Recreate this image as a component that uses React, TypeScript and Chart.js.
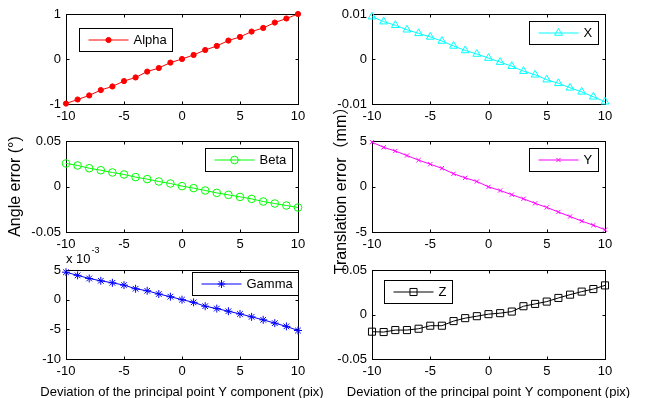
import React, { useEffect, useRef } from 'react';
import { Chart, registerables } from 'chart.js';
import * as helpers from 'chart.js/helpers';

Chart.register(...registerables);

const FONT = "'Liberation Sans', Arial, 'Noto Sans CJK SC', sans-serif";

// ---- data ----
const X_VALUES = [-10, -9, -8, -7, -6, -5, -4, -3, -2, -1, 0, 1, 2, 3, 4, 5, 6, 7, 8, 9, 10];
const ALPHA = [-0.99, -0.9, -0.81, -0.69, -0.61, -0.49, -0.41, -0.28, -0.2, -0.08, 0.0, 0.09, 0.2, 0.29, 0.41, 0.49, 0.61, 0.69, 0.81, 0.9, 1.0];
const BETA = [0.0253, 0.0231, 0.0201, 0.0179, 0.0154, 0.0132, 0.0103, 0.0081, 0.0055, 0.0033, 0.0004, -0.0018, -0.0044, -0.007, -0.0092, -0.0114, -0.0136, -0.0165, -0.0187, -0.0209, -0.0231];
const GAMMA = [4.63, 4.1, 3.57, 3.18, 2.84, 2.45, 1.84, 1.5, 0.95, 0.5, 0, -0.45, -1.1, -1.5, -1.95, -2.4, -2.9, -3.4, -3.96, -4.5, -5.2];
const TRANS_X = [0.0094, 0.0083, 0.0075, 0.0065, 0.0057, 0.0049, 0.004, 0.0029, 0.0019, 0.0011, 0.0002, -0.0007, -0.0016, -0.0027, -0.0035, -0.0046, -0.0054, -0.0064, -0.0073, -0.0084, -0.0095];
const TRANS_Y = [4.87, 4.3, 3.9, 3.4, 2.9, 2.45, 2.0, 1.4, 0.95, 0.55, -0.04, -0.44, -0.9, -1.35, -1.85, -2.3, -2.8, -3.3, -3.8, -4.25, -4.75];
const TRANS_Z = [-0.0193, -0.0197, -0.0175, -0.0175, -0.016, -0.0126, -0.0126, -0.0074, -0.0041, -0.0019, 0.0004, 0.0015, 0.0033, 0.0093, 0.0119, 0.0145, 0.0186, 0.0223, 0.0257, 0.0286, 0.0327];

// axis ranges [min, max, step]
const X_RANGE = [-10, 10, 5];
const ALPHA_RANGE = [-1, 1, 1];
const BETA_RANGE = [-0.05, 0.05, 0.05];
const GAMMA_RANGE = [-10, 5, 5];
const TX_RANGE = [-0.01, 0.01, 0.01];
const TY_RANGE = [-5, 5, 5];
const TZ_RANGE = [-0.05, 0.05, 0.05];

const SERIES_NAMES = ['Alpha', 'Beta', 'Gamma', 'X', 'Y', 'Z'];
const X_TITLE = 'Deviation of the principal point Y component (pix)';
const ANGLE_TITLE = 'Angle error (°)';
const TRANS_TITLE = 'Translation error（mm）';
const GAMMA_EXPONENT = ['x 10', '-3'];

// ---- layout ----
const COL_L = { cx: 0, cw: 345, L: 66, R: 298 };
const COL_R = { cx: 316, cw: 337, L: 372, R: 605 };
const ROW1 = { cy: 0, ch: 128, T: 14, B: 104 };
const ROW2 = { cy: 95, ch: 185, T: 141, B: 232 };
const ROW3 = { cy: 240, ch: 158, T: 270, B: 359 };
const X_AXIS_H = 22;

const fmt = (v: number) => String(Number(Number(v).toFixed(6)));

const PANELS = [
  { id: 'alpha', col: COL_L, row: ROW1, values: ALPHA, range: ALPHA_RANGE, name: SERIES_NAMES[0], color: '#ff0000', style: 'circle', radius: 2.6, fill: '#ff0000', legend: { corner: 'nw', dx: 13, dy: 14 } },
  { id: 'beta', col: COL_L, row: ROW2, values: BETA, range: BETA_RANGE, name: SERIES_NAMES[1], color: '#00ff00', style: 'circle', radius: 3.8, fill: 'transparent', legend: { corner: 'ne', dx: 6, dy: 7 }, yTitle: ANGLE_TITLE, yTitlePad: 6 },
  { id: 'gamma', col: COL_L, row: ROW3, values: GAMMA, range: GAMMA_RANGE, name: SERIES_NAMES[2], color: '#0000ff', style: 'star', radius: 4, fill: 'transparent', legend: { corner: 'ne', dx: 0, dy: 2 }, exponent: GAMMA_EXPONENT, xTitle: X_TITLE },
  { id: 'tx', col: COL_R, row: ROW1, values: TRANS_X, range: TX_RANGE, name: SERIES_NAMES[3], color: '#00ffff', style: 'triangle', radius: 4.5, fill: 'transparent', legend: { corner: 'ne', dx: 7, dy: 7 } },
  { id: 'ty', col: COL_R, row: ROW2, values: TRANS_Y, range: TY_RANGE, name: SERIES_NAMES[4], color: '#ff00ff', style: 'crossRot', radius: 3, fill: 'transparent', legend: { corner: 'ne', dx: 7, dy: 7 }, yTitle: TRANS_TITLE, yTitlePad: 16 },
  { id: 'tz', col: COL_R, row: ROW3, values: TRANS_Z, range: TZ_RANGE, name: SERIES_NAMES[5], color: '#000000', style: 'rect', radius: 5, fill: 'transparent', legend: { corner: 'nw', dx: 12, dy: 10 }, xTitle: X_TITLE },
];

const matlabPlugin = {
  id: 'matlab',
  beforeDatasetsDraw(chart: any) {
    const { ctx, chartArea: a } = chart;
    const xs = chart.scales.x;
    const ys = chart.scales.y;
    const l = Math.round(a.left) + 0.5;
    const r = Math.round(a.right) + 0.5;
    const t = Math.round(a.top) + 0.5;
    const b = Math.round(a.bottom) + 0.5;
    ctx.save();
    ctx.strokeStyle = '#000';
    ctx.lineWidth = 1;
    ctx.strokeRect(l, t, r - l, b - t);
    const tl = 3;
    ctx.beginPath();
    xs.ticks.forEach((tk: any) => {
      const px = Math.round(xs.getPixelForValue(tk.value)) + 0.5;
      ctx.moveTo(px, b); ctx.lineTo(px, b - tl);
      ctx.moveTo(px, t); ctx.lineTo(px, t + tl);
    });
    ys.ticks.forEach((tk: any) => {
      const py = Math.round(ys.getPixelForValue(tk.value)) + 0.5;
      ctx.moveTo(l, py); ctx.lineTo(l + tl, py);
      ctx.moveTo(r, py); ctx.lineTo(r - tl, py);
    });
    ctx.stroke();
    ctx.restore();
  },
  afterDatasetsDraw(chart: any, _args: any, opts: any) {
    const { ctx, chartArea: a } = chart;
    const ds = chart.data.datasets[0];
    ctx.save();
    // legend
    if (opts.legend) {
      const { corner, dx, dy } = opts.legend;
      ctx.font = `13px ${FONT}`;
      const tw = ctx.measureText(ds.label).width;
      const w = Math.round(9 + 40 + 5 + tw + 6);
      const h = 23;
      const x0 = Math.round(corner === 'nw' ? a.left + dx : a.right - dx - w) + 0.5;
      const y0 = Math.round(a.top + dy) + 0.5;
      ctx.fillStyle = '#fff';
      ctx.fillRect(x0, y0, w, h);
      ctx.strokeStyle = '#000';
      ctx.lineWidth = 1;
      ctx.strokeRect(x0, y0, w, h);
      const cy = Math.round(y0 + h / 2);
      ctx.strokeStyle = ds.borderColor;
      ctx.beginPath();
      ctx.moveTo(x0 + 9, cy);
      ctx.lineTo(x0 + 49, cy);
      ctx.stroke();
      ctx.fillStyle = ds.pointBackgroundColor;
      ctx.strokeStyle = ds.pointBorderColor;
      ctx.lineWidth = ds.pointBorderWidth;
      helpers.drawPoint(ctx, { pointStyle: ds.pointStyle, radius: ds.pointRadius, borderWidth: ds.pointBorderWidth, rotation: 0 }, x0 + 29, cy);
      ctx.fillStyle = '#000';
      ctx.textAlign = 'left';
      ctx.textBaseline = 'middle';
      ctx.fillText(ds.label, x0 + 54, cy + 0.5);
    }
    // exponent label
    if (opts.exponent) {
      ctx.fillStyle = '#000';
      ctx.textAlign = 'left';
      ctx.textBaseline = 'alphabetic';
      ctx.font = `13px ${FONT}`;
      const base = a.top - 7;
      ctx.fillText(opts.exponent[0], a.left, base);
      const w0 = ctx.measureText(opts.exponent[0]).width;
      ctx.font = `9px ${FONT}`;
      ctx.fillText(opts.exponent[1], a.left + w0 + 1, base - 10);
    }
    // x title
    if (opts.xTitle) {
      ctx.fillStyle = '#000';
      ctx.font = `13px ${FONT}`;
      ctx.textAlign = 'center';
      ctx.textBaseline = 'middle';
      ctx.fillText(opts.xTitle, (a.left + a.right) / 2, a.bottom + 33.5);
    }
    ctx.restore();
  },
};

function Panel({ cfg }: { cfg: any }) {
  const ref = useRef<HTMLCanvasElement | null>(null);
  useEffect(() => {
    const { col, row } = cfg;
    const padTop = row.T - row.cy;
    const padRight = col.cx + col.cw - col.R;
    const padBottom = row.cy + row.ch - row.B - X_AXIS_H;
    const yWidth = col.L - col.cx;
    const tickFont = { size: 13, family: FONT };
    const chart = new Chart(ref.current as HTMLCanvasElement, {
      type: 'line',
      data: {
        datasets: [
          {
            label: cfg.name,
            data: X_VALUES.map((x, i) => ({ x, y: cfg.values[i] })),
            borderColor: cfg.color,
            backgroundColor: cfg.fill,
            borderWidth: 1,
            pointStyle: cfg.style,
            pointRadius: cfg.radius,
            pointBorderWidth: 1,
            pointBorderColor: cfg.color,
            pointBackgroundColor: cfg.fill,
            fill: false,
            tension: 0,
            clip: false,
          } as any,
        ],
      },
      options: {
        responsive: false,
        animation: false,
        events: [],
        layout: { padding: { left: 0, top: padTop, right: padRight, bottom: padBottom } },
        plugins: {
          legend: { display: false },
          tooltip: { enabled: false },
          matlab: { legend: cfg.legend, exponent: cfg.exponent, xTitle: cfg.xTitle },
        } as any,
        scales: {
          x: {
            type: 'linear',
            min: X_RANGE[0],
            max: X_RANGE[1],
            grid: { display: false, drawTicks: false },
            border: { display: false },
            ticks: { stepSize: X_RANGE[2], padding: 5, color: '#000', font: tickFont, maxRotation: 0, autoSkip: false, callback: (v: any) => fmt(v) },
            afterFit: (s: any) => { s.height = X_AXIS_H; },
          },
          y: {
            type: 'linear',
            min: cfg.range[0],
            max: cfg.range[1],
            grid: { display: false, drawTicks: false },
            border: { display: false },
            ticks: { stepSize: cfg.range[2], padding: 5, color: '#000', font: tickFont, autoSkip: false, callback: (v: any) => fmt(v) },
            title: cfg.yTitle
              ? { display: true, text: cfg.yTitle, color: '#000', font: { size: 16, family: FONT }, padding: { top: cfg.yTitlePad, bottom: 0 } }
              : { display: false },
            afterFit: (s: any) => { s.width = yWidth; },
          },
        } as any,
      },
      plugins: [matlabPlugin],
    });
    return () => chart.destroy();
  }, [cfg]);
  const { col, row } = cfg;
  return (
    <canvas
      ref={ref}
      width={col.cw}
      height={row.ch}
      style={{ position: 'absolute', left: col.cx, top: row.cy, width: col.cw, height: row.ch }}
    />
  );
}

export default function App() {
  return (
    <div style={{ position: 'fixed', left: 0, top: 0, width: 653, height: 398, background: '#fff', overflow: 'hidden' }}>
      {PANELS.map((p) => (
        <Panel key={p.id} cfg={p} />
      ))}
    </div>
  );
}
